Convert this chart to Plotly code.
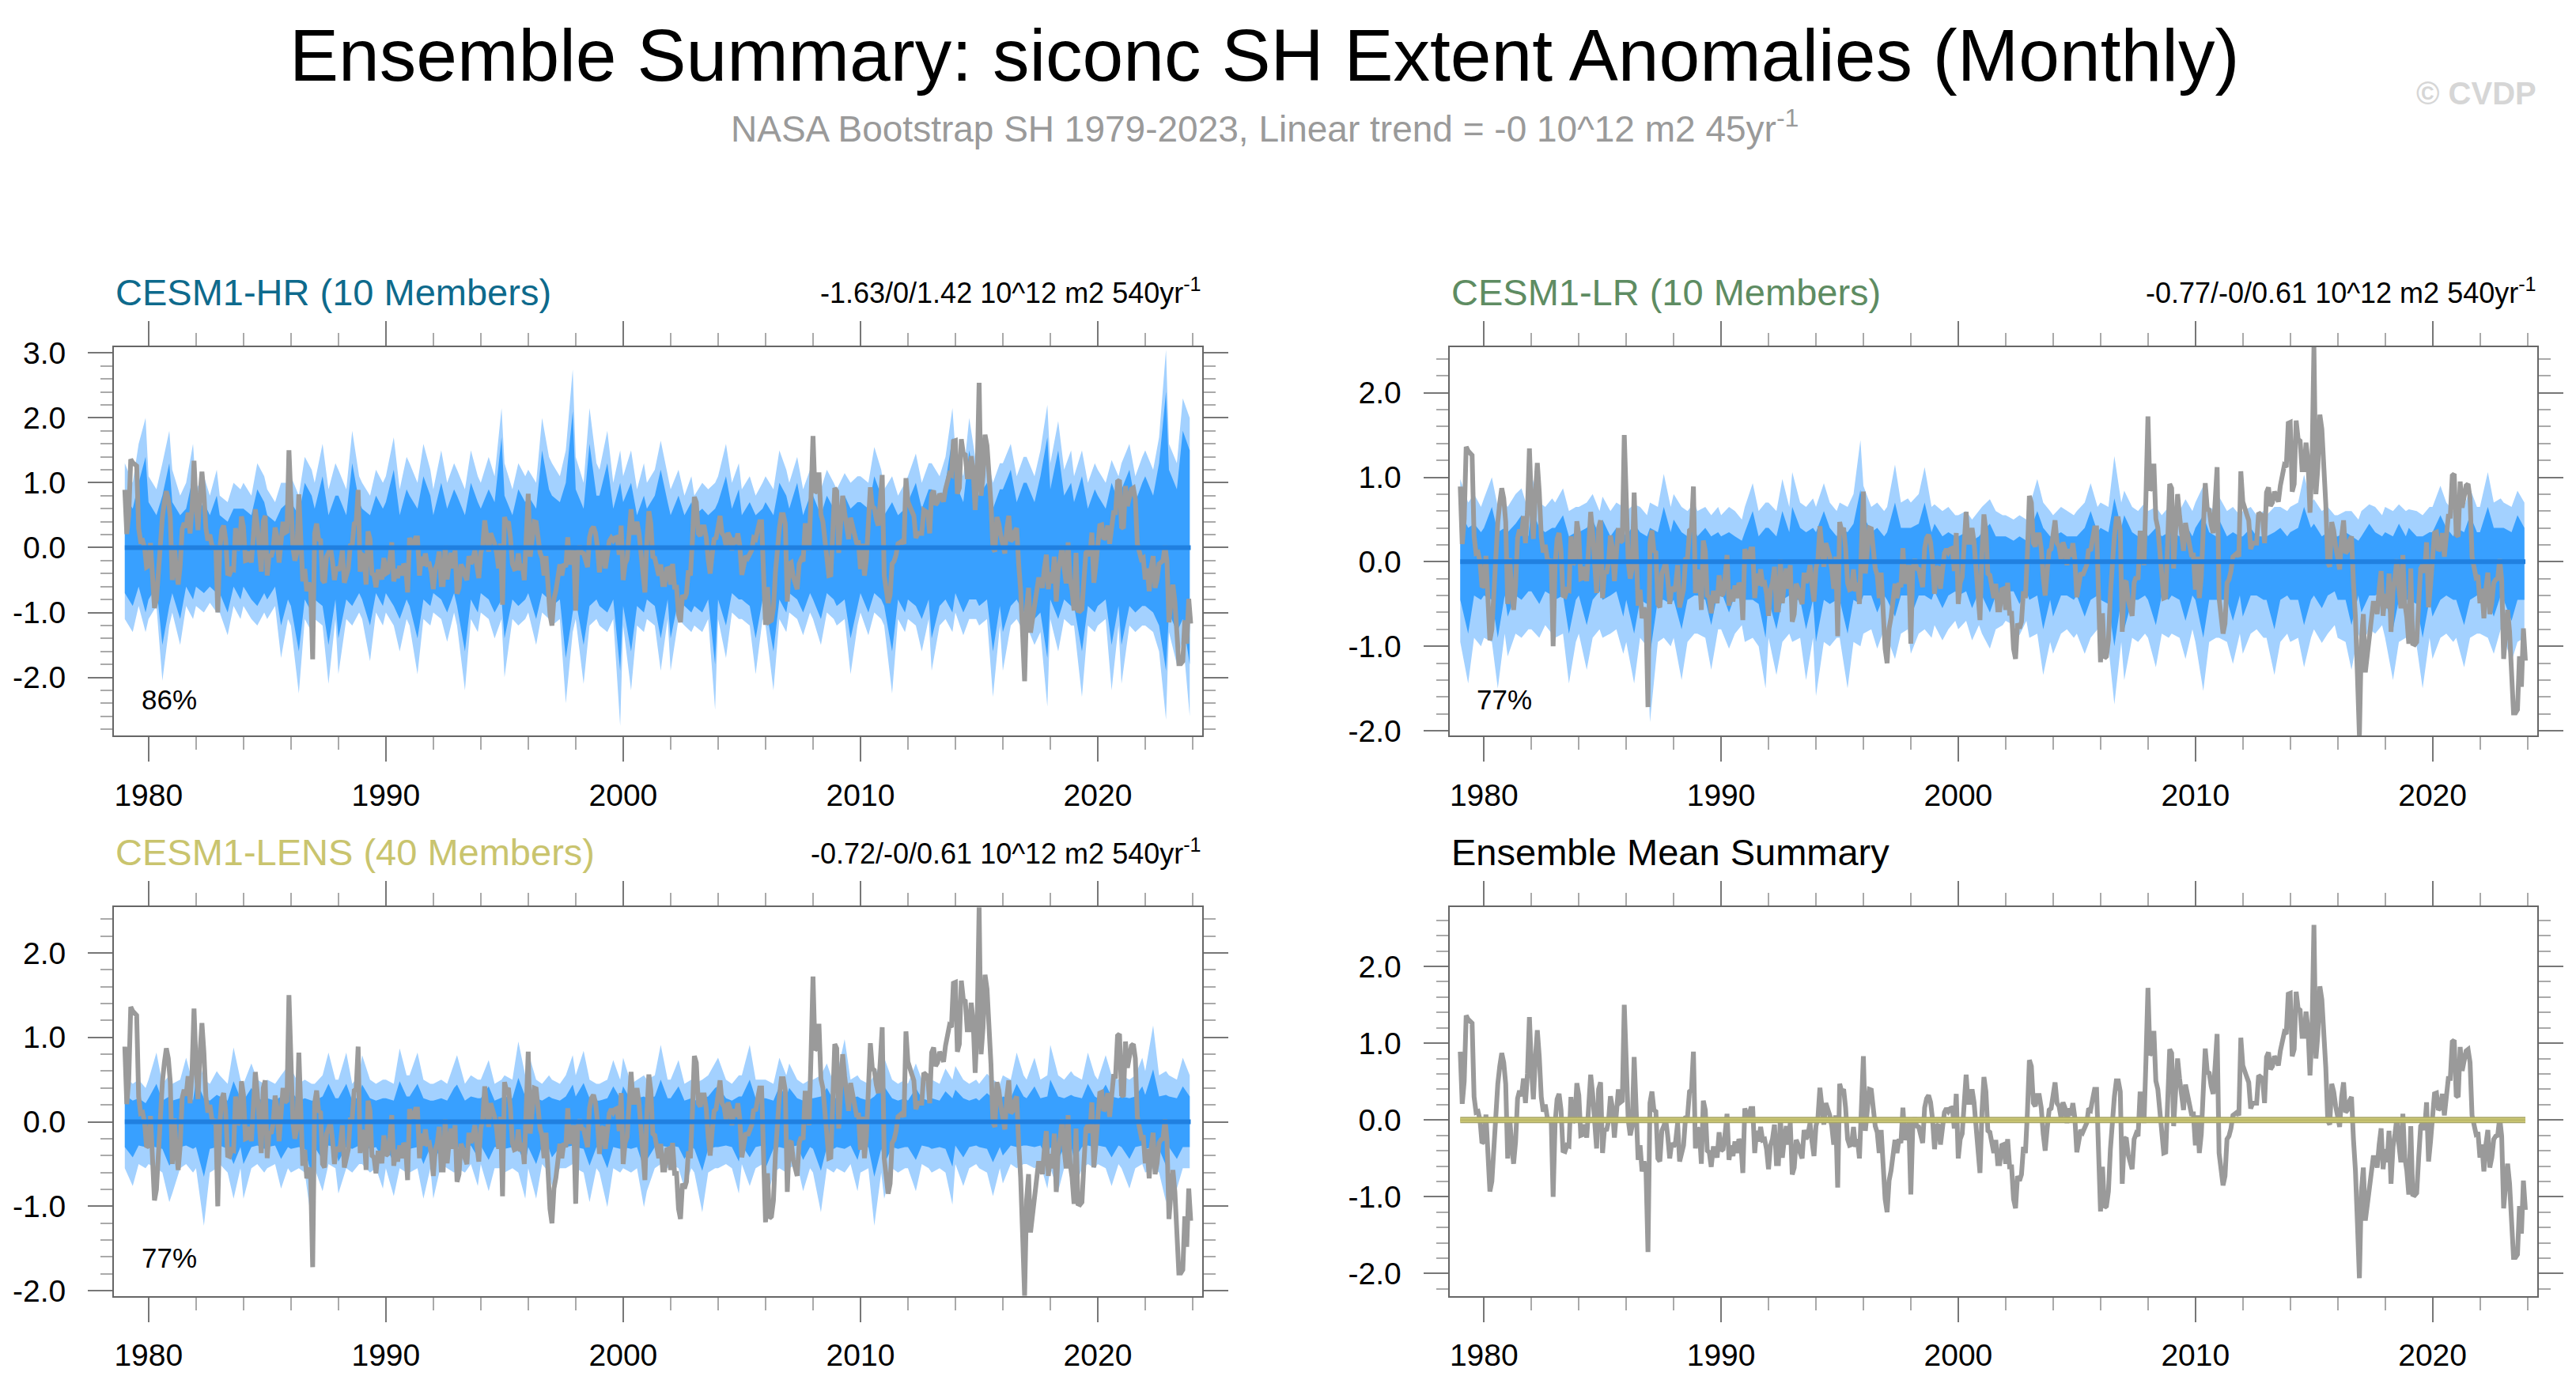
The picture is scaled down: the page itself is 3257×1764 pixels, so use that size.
import numpy as np
import plotly.graph_objects as go

# reference canvas; the page body adds an 8px margin, so the figure is shrunk by it
W, H = 3257, 1764
OFF = 8
FW, FH = W - 2 * OFF, H - 2 * OFF
FONT = "Liberation Sans, Arial, sans-serif"

# observed anomalies (NASA Bootstrap SH), monthly Jan 1979 - Dec 2023
obs = [
    0.89, 0.21, 0.50, 1.36, 1.31, 1.29, 1.26, 0.30, 0.10, 0.11, 0.00, -0.30,
    -0.28, 0.07, -0.55, -0.93, -0.80, -0.38, 0.13, 0.47, 0.70, 0.87, 0.75, 0.47,
    -0.50, 0.04, -0.32, -0.57, -0.28, 0.28, 0.38, 0.31, 0.54, 0.22, 0.60, 1.34,
    0.68, 0.27, 0.80, 1.17, 0.82, 0.30, 0.11, 0.20, 0.04, -0.02, 0.03, -1.00,
    -0.04, 0.27, 0.34, 0.13, -0.40, -0.41, -0.33, -0.34, 0.30, -0.03, 0.00, 0.48,
    0.32, -0.20, -0.19, -0.06, -0.23, 0.20, 0.59, 0.34, 0.03, -0.37, 0.40, 0.49,
    -0.43, -0.11, -0.14, -0.02, 0.31, 0.16, -0.23, 0.18, 0.40, 0.23, 0.25, 1.50,
    0.58, 0.00, -0.20, -0.08, 0.82, 0.03, -0.52, -0.33, -0.67, -0.54, -0.67, -1.72,
    0.22, 0.37, 0.13, 0.11, -0.50, -0.54, -0.14, -0.08, 0.00, -0.21, -0.50, -0.30,
    -0.35, -0.28, -0.04, -0.54, -0.42, -0.33, 0.03, 0.04, 0.37, 0.39, 0.89, -0.37,
    -0.11, -0.13, -0.57, 0.25, 0.13, -0.40, -0.42, -0.61, -0.37, -0.37, -0.49, -0.16,
    -0.40, -0.38, -0.18, 0.08, -0.52, -0.33, -0.47, -0.28, -0.43, -0.25, -0.30, -0.69,
    0.15, 0.06, 0.06, 0.15, 0.15, -0.43, -0.14, -0.28, -0.09, -0.26, -0.25, -0.38,
    -0.64, -0.33, -0.25, -0.06, -0.57, -0.57, 0.03, -0.49, -0.25, -0.08, -0.32, -0.04,
    -0.71, -0.62, -0.26, -0.32, -0.43, -0.50, -0.13, -0.25, -0.18, -0.04, -0.28, -0.47,
    -0.08, 0.03, 0.42, 0.10, -0.06, 0.22, 0.15, 0.06, -0.08, -0.32, 0.06, -0.88,
    0.47, 0.37, 0.40, 0.16, -0.25, -0.33, -0.32, -0.09, -0.35, -0.25, -0.50, 0.06,
    0.83, -0.14, 0.16, 0.40, 0.39, 0.16, -0.08, -0.16, -0.43, -0.13, -0.66, -1.03,
    -1.20, -0.79, -0.66, -0.47, -0.26, -0.43, -0.25, -0.30, 0.16, -0.26, -0.13, -0.04,
    -0.97, -0.08, 0.03, -0.08, -0.09, -0.18, -0.30, 0.16, 0.28, 0.32, 0.23, 0.01,
    -0.38, -0.08, -0.06, -0.32, -0.11, 0.10, 0.15, 0.11, 0.15, 0.16, -0.11, 0.34,
    -0.50, -0.25, -0.18, 0.16, 0.59, 0.23, 0.23, 0.40, 0.23, -0.08, -0.32, -0.69,
    0.10, 0.56, 0.37, -0.14, -0.16, -0.32, -0.43, -0.26, -0.57, -0.57, -0.33, -0.32,
    -0.57, -0.25, -0.61, -0.61, -1.03, -1.15, -0.73, -0.79, -0.71, -0.35, -0.43, 0.10,
    0.78, 0.70, 0.22, 0.18, 0.32, 0.32, 0.16, -0.18, -0.40, -0.11, 0.13, 0.15,
    0.37, 0.49, 0.22, 0.18, 0.03, 0.23, 0.16, -0.04, 0.15, 0.06, 0.22, 0.03,
    -0.42, -0.26, -0.13, -0.16, -0.09, -0.04, 0.15, 0.13, 0.27, 0.40, 0.40, -0.59,
    -1.19, -0.61, -1.14, -1.12, -0.93, -0.38, 0.01, 0.30, 0.51, 0.51, 0.37, -0.83,
    -0.25, -0.23, -0.45, -0.57, -0.64, -0.25, -0.18, -0.21, 0.34, 0.34, -0.04, 0.78,
    1.72, 0.85, 0.87, 1.16, 0.51, 0.40, 0.06, -0.21, -0.43, -0.42, 0.40, 0.92,
    0.87, -0.08, 0.37, 0.80, 0.54, 0.37, 0.13, 0.46, 0.34, 0.15, 0.08, 0.08,
    -0.33, 0.06, -0.43, -0.18, 0.37, 0.93, 0.63, 0.61, 0.44, 0.34, 0.71, 1.12,
    -0.43, -0.62, -0.85, -0.73, -0.25, -0.21, -0.11, 0.06, 0.08, 0.10, 0.06, 1.07,
    0.71, 0.61, 0.56, 0.49, 0.15, 0.22, 0.22, 0.22, 0.58, 0.56, 0.54, 0.22,
    0.82, 0.88, 0.66, 0.70, 0.83, 0.78, 0.71, 0.90, 1.07, 1.14, 1.12, 1.64,
    1.65, 0.83, 0.92, 1.67, 1.45, 1.43, 1.09, 1.09, 1.41, 1.19, 0.58, 1.12,
    2.54, 0.80, 1.12, 1.74, 1.57, 1.16, 0.68, -0.01, -0.06, 0.47, 0.37, 0.18,
    0.06, -0.09, 0.30, 0.49, 0.10, 0.13, 0.25, 0.30, -0.25, -0.66, -1.34, -2.06,
    -0.93, -0.62, -1.31, -1.10, -0.86, -0.61, -0.49, -0.49, -0.62, -0.32, -0.11, -0.64,
    -0.38, -0.55, -0.14, -0.83, -0.35, -0.18, 0.03, -0.32, -0.55, 0.08, -0.49, -0.66,
    -0.97, -0.08, -0.97, -0.98, -0.95, -0.49, -0.08, -0.04, -0.13, 0.23, -0.54, -0.28,
    0.06, 0.34, 0.35, 0.13, 0.16, 0.34, 0.06, 0.30, 0.54, 0.54, 1.02, 1.04,
    0.32, 0.30, 0.95, 0.64, 0.80, 0.90, 0.92, 0.75, 0.06, -0.08, -0.18, -0.16,
    -0.49, -0.32, -0.67, -0.32, -0.13, -0.62, -0.49, -0.25, -0.21, -0.20, 0.03, -0.21,
    -1.15, -0.85, -0.57, -0.83, -1.21, -1.79, -1.79, -1.75, -1.12, -1.48, -0.79, -1.17,
]

# ensemble spread, read per quarter (4 values per year, 1979-2023)
hr_hi_outer = [
    1.3, 1.0, 1.6, 2.0, 1.1, 0.9, 1.3, 1.8, 1.2, 0.8, 1.0, 1.6, 0.9, 1.1, 0.8, 1.2,
    0.8, 0.7, 1.0, 0.9, 1.0, 0.8, 1.3, 1.1, 0.9, 0.7, 1.0, 1.0, 1.1, 0.8, 1.4, 1.2,
    1.0, 1.6, 0.9, 1.3, 1.2, 0.9, 1.8, 1.1, 1.0, 0.8, 1.2, 1.0, 1.1, 1.7, 0.9, 1.4,
    1.3, 1.0, 1.6, 1.2, 0.9, 1.5, 1.0, 1.3, 1.2, 0.9, 1.5, 1.1, 1.0, 1.4, 1.1, 2.15,
    1.3, 0.9, 1.3, 1.1, 1.2, 1.0, 2.0, 1.4, 1.3, 1.1, 1.5, 2.75, 1.4, 1.0, 2.15, 1.3,
    1.2, 1.8, 1.0, 1.5, 1.1, 1.5, 0.9, 1.3, 1.0, 1.2, 1.65, 1.1, 0.9, 1.2, 0.8, 1.1,
    0.8, 1.0, 0.9, 1.0, 1.1, 1.6, 1.0, 1.3, 0.9, 1.1, 0.8, 1.0, 1.1, 0.9, 1.5, 1.2,
    1.0, 1.4, 0.9, 1.2, 1.2, 0.9, 1.2, 1.0, 0.9, 1.15, 1.0, 1.1, 1.1, 1.0, 1.55, 1.2,
    0.9, 1.1, 0.8, 1.0, 1.1, 1.45, 1.0, 1.3, 1.3, 1.1, 1.4, 2.15, 1.5, 1.1, 2.0, 1.3,
    1.2, 1.4, 1.0, 1.3, 1.3, 1.6, 1.1, 1.4, 1.4, 1.1, 1.5, 2.2, 1.3, 1.95, 1.2, 1.5,
    1.1, 1.5, 1.0, 1.3, 1.2, 1.0, 1.35, 1.1, 1.3, 1.6, 1.1, 1.4, 1.5, 1.2, 1.7, 3.05,
    1.6, 1.3, 2.3, 2.0,
]
hr_hi_inner = [
    0.8, 0.6, 1.0, 1.4, 0.7, 0.5, 0.8, 1.3, 0.7, 0.5, 0.6, 1.1, 0.5, 0.7, 0.5, 0.8,
    0.5, 0.4, 0.6, 0.6, 0.6, 0.5, 0.9, 0.7, 0.5, 0.4, 0.6, 0.7, 0.7, 0.5, 1.0, 0.8,
    0.6, 1.1, 0.5, 0.8, 0.8, 0.5, 1.3, 0.7, 0.6, 0.5, 0.8, 0.6, 0.7, 1.2, 0.5, 0.9,
    0.8, 0.6, 1.1, 0.8, 0.5, 1.0, 0.6, 0.9, 0.8, 0.5, 1.0, 0.7, 0.6, 0.9, 0.7, 1.7,
    0.8, 0.5, 0.9, 0.7, 0.8, 0.6, 1.5, 0.9, 0.8, 0.7, 1.0, 2.1, 0.9, 0.6, 1.6, 0.8,
    0.8, 1.3, 0.6, 1.0, 0.7, 1.0, 0.5, 0.8, 0.6, 0.8, 1.2, 0.7, 0.5, 0.8, 0.5, 0.7,
    0.5, 0.6, 0.5, 0.6, 0.7, 1.1, 0.6, 0.9, 0.5, 0.7, 0.5, 0.6, 0.7, 0.5, 1.0, 0.8,
    0.6, 1.0, 0.5, 0.8, 0.8, 0.5, 0.8, 0.6, 0.5, 0.8, 0.6, 0.7, 0.7, 0.6, 1.1, 0.8,
    0.5, 0.7, 0.5, 0.6, 0.7, 1.0, 0.6, 0.9, 0.9, 0.7, 1.0, 1.7, 1.0, 0.7, 1.5, 0.9,
    0.8, 1.0, 0.6, 0.9, 0.9, 1.2, 0.7, 1.0, 1.0, 0.7, 1.1, 1.7, 0.9, 1.5, 0.8, 1.0,
    0.7, 1.1, 0.6, 0.9, 0.8, 0.6, 1.0, 0.7, 0.9, 1.2, 0.7, 1.0, 1.1, 0.8, 1.3, 2.4,
    1.2, 0.9, 1.8, 1.5,
]
hr_lo_inner = [
    -0.7, -0.9, -0.6, -1.0, -0.8, -0.6, -1.5, -0.9, -0.7, -1.1, -0.6, -0.8, -0.6, -0.7, -0.6, -0.7,
    -0.7, -1.0, -0.6, -0.8, -0.6, -0.8, -0.9, -0.7, -0.8, -0.6, -1.2, -0.8, -0.9, -1.6, -0.8, -1.0,
    -0.8, -0.9, -1.5, -0.8, -1.4, -0.8, -0.9, -0.7, -0.8, -1.2, -0.7, -0.9, -0.7, -0.9, -1.1, -0.8,
    -0.9, -1.4, -0.8, -0.9, -0.7, -0.8, -1.0, -0.7, -0.9, -1.6, -0.8, -1.0, -0.7, -0.8, -1.0, -0.8,
    -1.4, -0.8, -0.9, -0.8, -0.7, -1.1, -0.7, -0.8, -0.9, -0.8, -1.7, -1.0, -0.8, -1.5, -0.9, -0.8,
    -0.9, -1.0, -0.8, -1.9, -0.9, -1.6, -0.9, -1.0, -0.8, -0.9, -1.4, -0.8, -1.4, -0.8, -0.9, -1.0,
    -0.9, -1.0, -0.8, -1.8, -0.8, -1.2, -0.7, -0.8, -0.8, -0.9, -1.4, -0.8, -0.9, -1.6, -0.8, -1.0,
    -0.7, -0.8, -1.0, -0.7, -0.8, -1.1, -0.7, -0.8, -0.9, -0.8, -1.4, -0.9, -0.7, -1.0, -0.7, -0.8,
    -0.9, -1.6, -0.8, -1.0, -0.8, -0.9, -1.1, -0.8, -1.4, -0.9, -0.8, -1.0, -0.7, -1.0, -0.8, -0.8,
    -0.9, -0.8, -1.6, -0.9, -1.3, -0.9, -0.8, -1.0, -0.9, -1.1, -1.0, -1.7, -0.8, -1.1, -0.8, -0.9,
    -0.9, -1.6, -0.9, -1.0, -0.9, -0.8, -1.5, -0.9, -1.5, -0.9, -1.0, -0.9, -0.9, -1.0, -1.2, -1.9,
    -1.0, -1.3, -1.1, -1.8,
]
hr_lo_outer = [
    -1.1, -1.3, -0.9, -1.3, -1.1, -0.9, -2.05, -1.2, -1.0, -1.5, -0.9, -1.1, -0.9, -1.0, -0.85, -1.0,
    -1.0, -1.35, -0.9, -1.1, -0.9, -1.1, -1.2, -1.0, -1.1, -0.9, -1.7, -1.1, -1.2, -2.25, -1.1, -1.3,
    -1.1, -1.2, -2.1, -1.1, -1.95, -1.1, -1.2, -1.0, -1.1, -1.75, -1.0, -1.2, -1.0, -1.2, -1.6, -1.1,
    -1.2, -1.95, -1.1, -1.2, -1.0, -1.1, -1.45, -1.0, -1.2, -2.2, -1.1, -1.3, -1.0, -1.1, -1.4, -1.1,
    -2.0, -1.1, -1.2, -1.1, -1.0, -1.5, -1.0, -1.1, -1.2, -1.1, -2.4, -1.3, -1.1, -2.1, -1.2, -1.1,
    -1.2, -1.3, -1.1, -2.75, -1.2, -2.2, -1.2, -1.3, -1.1, -1.2, -1.9, -1.1, -1.9, -1.1, -1.2, -1.3,
    -1.2, -1.3, -1.1, -2.5, -1.1, -1.7, -1.0, -1.1, -1.1, -1.2, -1.95, -1.1, -1.2, -2.2, -1.1, -1.3,
    -1.0, -1.1, -1.35, -1.0, -1.1, -1.5, -1.0, -1.1, -1.2, -1.1, -1.95, -1.2, -1.0, -1.35, -1.0, -1.1,
    -1.2, -2.25, -1.1, -1.3, -1.1, -1.2, -1.6, -1.1, -1.9, -1.2, -1.1, -1.3, -1.0, -1.35, -1.1, -1.1,
    -1.2, -1.1, -2.3, -1.2, -1.9, -1.2, -1.1, -1.3, -1.2, -1.5, -1.3, -2.45, -1.1, -1.6, -1.1, -1.2,
    -1.2, -2.3, -1.2, -1.3, -1.2, -1.1, -2.2, -1.2, -2.1, -1.2, -1.3, -1.2, -1.2, -1.3, -1.6, -2.65,
    -1.3, -1.8, -1.4, -2.6,
]

lr_hi_outer = [
    0.98, 0.70, 0.80, 0.65, 0.75, 1.00, 0.65, 0.70, 0.65, 0.80, 0.87, 0.60, 1.03, 0.70, 0.65, 0.75,
    0.70, 0.87, 0.60, 0.65, 0.65, 0.70, 0.80, 0.60, 0.77, 0.60, 0.70, 0.65, 0.60, 0.68, 0.65, 0.55,
    0.70, 0.65, 1.04, 0.65, 0.80, 0.65, 0.60, 0.70, 0.60, 0.65, 0.55, 0.65, 0.55, 0.65, 0.60, 0.50,
    0.65, 0.93, 0.60, 0.70, 0.70, 0.60, 0.98, 0.65, 1.06, 0.70, 0.65, 0.75, 0.65, 0.93, 0.70, 0.60,
    0.70, 0.65, 0.80, 1.44, 0.90, 0.65, 0.70, 0.60, 0.65, 1.15, 0.70, 0.75, 0.70, 0.80, 1.12, 0.65,
    0.68, 0.60, 0.65, 0.55, 0.55, 0.60, 0.50, 0.60, 0.65, 0.74, 0.60, 0.55, 0.55, 0.50, 0.55, 0.50,
    0.65, 0.98, 0.70, 0.60, 0.55, 0.65, 0.60, 0.55, 0.60, 0.70, 0.93, 0.65, 0.70, 0.65, 1.25, 0.70,
    0.84, 0.65, 0.60, 0.70, 0.60, 0.65, 0.55, 0.65, 0.65, 0.60, 0.74, 0.60, 0.70, 0.90, 0.65, 0.60,
    0.77, 0.60, 0.65, 0.55, 0.60, 0.65, 0.55, 0.60, 0.55, 0.65, 0.65, 0.60, 0.65, 0.70, 1.03, 0.70,
    0.74, 0.60, 0.65, 0.55, 0.55, 0.60, 0.60, 0.50, 0.60, 0.68, 0.65, 0.55, 0.65, 0.60, 0.68, 0.60,
    0.62, 0.60, 0.55, 0.65, 0.65, 0.90, 0.70, 0.60, 0.70, 0.65, 0.87, 0.65, 0.65, 1.06, 0.70, 0.75,
    0.70, 0.65, 0.84, 0.70,
]
lr_hi_inner = [
    0.60, 0.40, 0.45, 0.35, 0.40, 0.65, 0.35, 0.40, 0.35, 0.45, 0.55, 0.30, 0.65, 0.40, 0.35, 0.40,
    0.40, 0.55, 0.30, 0.35, 0.35, 0.40, 0.50, 0.30, 0.50, 0.30, 0.40, 0.35, 0.30, 0.45, 0.35, 0.30,
    0.40, 0.35, 0.65, 0.35, 0.50, 0.35, 0.30, 0.40, 0.30, 0.40, 0.30, 0.35, 0.30, 0.35, 0.30, 0.25,
    0.35, 0.60, 0.30, 0.40, 0.40, 0.30, 0.60, 0.35, 0.65, 0.40, 0.35, 0.40, 0.35, 0.60, 0.40, 0.30,
    0.40, 0.35, 0.45, 0.85, 0.55, 0.35, 0.40, 0.30, 0.35, 0.70, 0.40, 0.40, 0.40, 0.45, 0.70, 0.35,
    0.45, 0.30, 0.35, 0.30, 0.30, 0.35, 0.25, 0.30, 0.35, 0.45, 0.30, 0.30, 0.30, 0.25, 0.30, 0.25,
    0.35, 0.60, 0.40, 0.30, 0.30, 0.35, 0.30, 0.30, 0.30, 0.40, 0.60, 0.35, 0.40, 0.35, 0.75, 0.40,
    0.55, 0.35, 0.30, 0.40, 0.30, 0.40, 0.30, 0.35, 0.35, 0.30, 0.45, 0.30, 0.40, 0.55, 0.35, 0.30,
    0.50, 0.30, 0.35, 0.30, 0.30, 0.40, 0.30, 0.30, 0.30, 0.35, 0.40, 0.30, 0.35, 0.40, 0.65, 0.40,
    0.45, 0.30, 0.35, 0.30, 0.30, 0.35, 0.30, 0.25, 0.30, 0.45, 0.35, 0.30, 0.35, 0.30, 0.45, 0.30,
    0.40, 0.30, 0.30, 0.35, 0.35, 0.55, 0.40, 0.30, 0.40, 0.35, 0.55, 0.35, 0.35, 0.65, 0.40, 0.40,
    0.40, 0.35, 0.55, 0.40,
]
lr_lo_inner = [
    -0.45, -0.85, -0.40, -0.45, -0.40, -0.45, -0.90, -0.40, -0.65, -0.40, -0.45, -0.35, -0.35, -0.50, -0.35, -0.40,
    -0.45, -0.40, -0.85, -0.45, -0.40, -0.75, -0.45, -0.35, -0.45, -0.40, -0.35, -0.65, -0.45, -0.85, -0.45, -0.50,
    -1.10, -0.45, -0.45, -0.50, -0.45, -0.80, -0.45, -0.40, -0.40, -0.45, -0.75, -0.35, -0.35, -0.60, -0.40, -0.35,
    -0.45, -0.45, -0.50, -0.90, -0.45, -0.80, -0.45, -0.40, -0.45, -0.45, -0.80, -0.45, -0.95, -0.45, -0.50, -0.45,
    -0.45, -0.85, -0.45, -0.50, -0.40, -0.40, -0.60, -0.40, -0.45, -0.65, -0.40, -0.40, -0.65, -0.40, -0.40, -0.45,
    -0.35, -0.55, -0.40, -0.35, -0.40, -0.35, -0.55, -0.35, -0.40, -0.60, -0.40, -0.35, -0.35, -0.35, -0.50, -0.35,
    -0.45, -0.40, -0.80, -0.45, -0.65, -0.40, -0.40, -0.45, -0.40, -0.65, -0.45, -0.40, -0.45, -0.50, -1.00, -0.45,
    -0.80, -0.45, -0.45, -0.40, -0.45, -0.75, -0.40, -0.45, -0.40, -0.45, -0.70, -0.40, -0.45, -0.90, -0.45, -0.45,
    -0.45, -0.45, -0.70, -0.40, -0.65, -0.40, -0.40, -0.45, -0.45, -0.80, -0.45, -0.40, -0.45, -0.45, -0.75, -0.45,
    -0.40, -0.55, -0.40, -0.35, -0.45, -0.45, -0.75, -0.40, -0.60, -0.40, -0.40, -0.35, -0.45, -0.80, -0.45, -0.45,
    -0.45, -0.50, -0.90, -0.45, -0.65, -0.45, -0.40, -0.45, -0.45, -0.75, -0.45, -0.40, -0.40, -0.45, -0.65, -0.40,
    -0.45, -0.70, -0.45, -0.45,
]
lr_lo_outer = [
    -0.95, -1.44, -0.90, -1.00, -0.90, -0.95, -1.50, -0.85, -1.12, -0.85, -0.90, -0.80, -0.80, -0.90, -0.75, -0.85,
    -0.90, -0.85, -1.44, -0.95, -0.85, -1.28, -0.90, -0.80, -0.90, -0.85, -0.80, -1.09, -0.95, -1.44, -0.90, -1.00,
    -1.90, -0.95, -0.90, -1.00, -0.90, -1.40, -0.95, -0.85, -0.85, -0.90, -1.28, -0.80, -0.80, -1.03, -0.85, -0.75,
    -0.95, -0.90, -1.00, -1.50, -0.90, -1.34, -0.95, -0.85, -0.95, -0.90, -1.40, -0.90, -1.59, -0.95, -1.00, -0.90,
    -0.90, -1.50, -0.95, -1.00, -0.85, -0.80, -1.03, -0.80, -0.90, -1.15, -0.85, -0.80, -1.09, -0.85, -0.80, -0.90,
    -0.75, -0.93, -0.80, -0.70, -0.80, -0.70, -0.93, -0.75, -0.85, -1.03, -0.80, -0.75, -0.70, -0.75, -0.87, -0.70,
    -0.90, -0.85, -1.34, -0.95, -1.09, -0.85, -0.80, -0.90, -0.85, -1.09, -0.90, -0.80, -0.95, -1.00, -1.69, -0.95,
    -1.40, -0.90, -0.95, -0.85, -0.90, -1.25, -0.85, -0.90, -0.85, -0.90, -1.15, -0.80, -0.95, -1.53, -0.95, -0.90,
    -0.90, -0.95, -1.21, -0.85, -1.09, -0.85, -0.80, -0.90, -0.90, -1.34, -0.95, -0.85, -0.95, -0.90, -1.25, -0.90,
    -0.80, -0.96, -0.85, -0.75, -0.90, -0.95, -1.28, -0.85, -0.99, -0.80, -0.85, -0.75, -0.90, -1.40, -0.95, -0.90,
    -0.95, -1.00, -1.50, -0.90, -1.15, -0.90, -0.85, -0.95, -0.90, -1.25, -0.90, -0.85, -0.85, -0.90, -1.09, -0.80,
    -0.90, -1.18, -0.95, -0.90,
]

lens_hi_outer = [
    0.54, 0.45, 0.50, 0.40, 0.50, 0.82, 0.45, 0.55, 0.45, 0.50, 0.76, 0.45, 0.90, 0.50, 0.45, 0.60,
    0.55, 0.45, 0.88, 0.50, 0.45, 0.69, 0.50, 0.45, 0.50, 0.45, 0.55, 0.66, 0.63, 0.45, 0.50, 0.45,
    0.45, 0.55, 0.82, 0.50, 0.50, 0.82, 0.45, 0.55, 0.79, 0.50, 0.45, 0.50, 0.50, 0.45, 0.87, 0.55,
    0.55, 0.82, 0.50, 0.45, 0.45, 0.50, 0.45, 0.69, 0.79, 0.45, 0.55, 0.50, 0.50, 0.73, 0.45, 0.50,
    0.55, 0.50, 0.95, 0.55, 0.82, 0.50, 0.45, 0.55, 0.50, 0.45, 0.55, 0.79, 0.55, 0.84, 0.50, 0.45,
    0.45, 0.50, 0.73, 0.50, 0.76, 0.45, 0.50, 0.55, 0.50, 0.55, 0.91, 0.50, 0.50, 0.73, 0.45, 0.50,
    0.45, 0.50, 0.55, 0.69, 0.76, 0.50, 0.45, 0.55, 0.55, 0.91, 0.50, 0.50, 0.50, 0.45, 0.76, 0.55,
    0.69, 0.50, 0.45, 0.50, 0.50, 0.55, 0.69, 0.45, 0.55, 0.98, 0.50, 0.55, 0.50, 0.45, 0.55, 0.69,
    0.76, 0.50, 0.45, 0.50, 0.45, 0.69, 0.50, 0.45, 0.50, 0.45, 0.63, 0.50, 0.66, 0.50, 0.45, 0.50,
    0.45, 0.57, 0.50, 0.45, 0.55, 0.50, 0.82, 0.55, 0.50, 0.76, 0.50, 0.55, 0.91, 0.55, 0.50, 0.60,
    0.55, 0.50, 0.82, 0.55, 0.50, 0.79, 0.55, 0.50, 0.55, 0.50, 0.55, 0.76, 0.60, 1.14, 0.55, 0.60,
    0.55, 0.50, 0.76, 0.55,
]
lens_hi_inner = [
    0.32, 0.25, 0.28, 0.22, 0.28, 0.45, 0.25, 0.30, 0.25, 0.28, 0.42, 0.25, 0.50, 0.28, 0.25, 0.32,
    0.30, 0.25, 0.48, 0.28, 0.25, 0.40, 0.28, 0.25, 0.28, 0.25, 0.30, 0.38, 0.36, 0.25, 0.28, 0.25,
    0.25, 0.30, 0.45, 0.28, 0.28, 0.45, 0.25, 0.30, 0.44, 0.28, 0.25, 0.28, 0.28, 0.25, 0.48, 0.30,
    0.30, 0.45, 0.28, 0.25, 0.25, 0.28, 0.25, 0.40, 0.44, 0.25, 0.30, 0.28, 0.28, 0.42, 0.25, 0.28,
    0.30, 0.28, 0.52, 0.30, 0.45, 0.28, 0.25, 0.30, 0.28, 0.25, 0.30, 0.44, 0.30, 0.46, 0.28, 0.25,
    0.25, 0.28, 0.42, 0.28, 0.42, 0.25, 0.28, 0.30, 0.28, 0.30, 0.50, 0.28, 0.28, 0.42, 0.25, 0.28,
    0.25, 0.28, 0.30, 0.40, 0.42, 0.28, 0.25, 0.30, 0.30, 0.50, 0.28, 0.28, 0.28, 0.25, 0.42, 0.30,
    0.40, 0.28, 0.25, 0.28, 0.28, 0.30, 0.40, 0.25, 0.30, 0.54, 0.28, 0.30, 0.28, 0.25, 0.30, 0.40,
    0.42, 0.28, 0.25, 0.28, 0.25, 0.40, 0.28, 0.25, 0.28, 0.25, 0.36, 0.28, 0.38, 0.28, 0.25, 0.28,
    0.25, 0.34, 0.28, 0.25, 0.30, 0.28, 0.45, 0.30, 0.28, 0.42, 0.28, 0.30, 0.50, 0.30, 0.28, 0.32,
    0.30, 0.28, 0.45, 0.30, 0.28, 0.44, 0.30, 0.28, 0.30, 0.28, 0.30, 0.42, 0.32, 0.62, 0.30, 0.32,
    0.30, 0.28, 0.42, 0.30,
]
lens_lo_inner = [
    -0.30, -0.42, -0.28, -0.30, -0.28, -0.30, -0.32, -0.52, -0.47, -0.30, -0.28, -0.32, -0.30, -0.65, -0.32, -0.30,
    -0.28, -0.32, -0.50, -0.30, -0.50, -0.30, -0.28, -0.32, -0.30, -0.28, -0.44, -0.30, -0.32, -0.30, -0.32, -0.64,
    -0.30, -0.45, -0.28, -0.30, -0.47, -0.30, -0.32, -0.28, -0.28, -0.32, -0.30, -0.44, -0.30, -0.48, -0.30, -0.32,
    -0.32, -0.30, -0.50, -0.30, -0.50, -0.28, -0.30, -0.32, -0.30, -0.32, -0.28, -0.42, -0.28, -0.45, -0.30, -0.30,
    -0.32, -0.30, -0.32, -0.50, -0.30, -0.50, -0.28, -0.32, -0.42, -0.30, -0.30, -0.28, -0.30, -0.32, -0.52, -0.30,
    -0.32, -0.55, -0.30, -0.32, -0.30, -0.32, -0.30, -0.55, -0.45, -0.30, -0.28, -0.30, -0.28, -0.30, -0.44, -0.30,
    -0.32, -0.58, -0.32, -0.30, -0.30, -0.28, -0.30, -0.47, -0.28, -0.42, -0.30, -0.28, -0.55, -0.32, -0.30, -0.32,
    -0.30, -0.28, -0.45, -0.30, -0.32, -0.58, -0.30, -0.32, -0.30, -0.32, -0.28, -0.45, -0.32, -0.30, -0.65, -0.32,
    -0.50, -0.30, -0.32, -0.30, -0.30, -0.45, -0.28, -0.30, -0.32, -0.30, -0.32, -0.53, -0.28, -0.42, -0.30, -0.28,
    -0.30, -0.32, -0.48, -0.30, -0.40, -0.28, -0.30, -0.28, -0.28, -0.30, -0.28, -0.44, -0.30, -0.45, -0.30, -0.28,
    -0.45, -0.30, -0.28, -0.30, -0.28, -0.30, -0.42, -0.28, -0.30, -0.44, -0.30, -0.28, -0.32, -0.30, -0.32, -0.52,
    -0.30, -0.44, -0.30, -0.30,
]
lens_lo_outer = [
    -0.55, -0.76, -0.50, -0.55, -0.50, -0.55, -0.60, -0.95, -0.85, -0.55, -0.50, -0.60, -0.55, -1.23, -0.60, -0.55,
    -0.50, -0.60, -0.91, -0.55, -0.91, -0.55, -0.50, -0.60, -0.55, -0.50, -0.79, -0.55, -0.60, -0.55, -0.60, -1.20,
    -0.55, -0.82, -0.50, -0.55, -0.85, -0.55, -0.60, -0.50, -0.50, -0.60, -0.55, -0.79, -0.55, -0.88, -0.55, -0.60,
    -0.60, -0.55, -0.91, -0.55, -0.91, -0.50, -0.55, -0.60, -0.55, -0.60, -0.50, -0.76, -0.50, -0.82, -0.55, -0.55,
    -0.60, -0.55, -0.60, -0.91, -0.55, -0.91, -0.50, -0.60, -0.76, -0.55, -0.55, -0.50, -0.55, -0.60, -0.95, -0.55,
    -0.60, -1.01, -0.55, -0.60, -0.55, -0.60, -0.55, -1.01, -0.82, -0.55, -0.50, -0.55, -0.50, -0.55, -0.79, -0.55,
    -0.60, -1.07, -0.60, -0.55, -0.55, -0.50, -0.55, -0.85, -0.50, -0.76, -0.55, -0.50, -1.01, -0.60, -0.55, -0.60,
    -0.55, -0.50, -0.82, -0.55, -0.60, -1.07, -0.55, -0.60, -0.55, -0.60, -0.50, -0.82, -0.60, -0.55, -1.23, -0.60,
    -0.91, -0.55, -0.60, -0.55, -0.55, -0.82, -0.50, -0.55, -0.60, -0.55, -0.60, -0.98, -0.50, -0.76, -0.55, -0.50,
    -0.55, -0.60, -0.88, -0.55, -0.73, -0.50, -0.55, -0.50, -0.50, -0.55, -0.50, -0.79, -0.55, -0.82, -0.55, -0.50,
    -0.82, -0.55, -0.50, -0.55, -0.50, -0.55, -0.76, -0.50, -0.55, -0.79, -0.55, -0.50, -0.60, -0.55, -0.60, -0.95,
    -0.55, -0.79, -0.55, -0.55,
]

# ensemble means (flat at zero)
mean_years = [1979.0, 2023.917]
hr_mean = [0.0, 0.0]
lr_mean = [0.0, 0.0]
lens_mean = [0.0, 0.0]

year_ticks = [1980, 1990, 2000, 2010, 2020]
y_ticks_hr = [-2, -1, 0, 1, 2, 3]
y_ticks = [-2, -1, 0, 1, 2]

t_month = 1979 + np.arange(len(obs)) / 12.0
q_month = [0.0, 4.0, 7.0, 10.5]
t_quarter = np.array([y + m / 12.0 for y in range(1979, 2024) for m in q_month])

LIGHT = "#A3D1FF"
DARK = "#38A0FF"
MEANBLUE = "#2080E0"
GREY = "#9A9A9A"


def px(x):
    return (x - OFF) / FW


def py(y):
    # small vertical stretch, matched against the reference after rendering
    y = y * 1.0115 - 11
    return 1 - (y - OFF) / FH


fig = go.Figure()

# panel boxes in reference pixels: (left, right, top, bottom)
boxes = {
    1: (144, 1520, 438, 932),
    2: (1832.5, 3207.5, 438, 932),
    3: (144, 1520, 1150, 1644),
    4: (1832.5, 3207.5, 1150, 1644),
}

models = [
    (1, hr_hi_outer, hr_hi_inner, hr_lo_inner, hr_lo_outer, hr_mean),
    (2, lr_hi_outer, lr_hi_inner, lr_lo_inner, lr_lo_outer, lr_mean),
    (3, lens_hi_outer, lens_hi_inner, lens_lo_inner, lens_lo_outer, lens_mean),
]

for k, hi_o, hi_i, lo_i, lo_o, mean in models:
    xa, ya = ("x", "y") if k == 1 else (f"x{k}", f"y{k}")
    fig.add_trace(go.Scatter(x=t_quarter, y=hi_o, mode="lines", line=dict(width=0),
                             xaxis=xa, yaxis=ya, hoverinfo="skip"))
    fig.add_trace(go.Scatter(x=t_quarter, y=lo_o, mode="lines", line=dict(width=0),
                             fill="tonexty", fillcolor=LIGHT, xaxis=xa, yaxis=ya, hoverinfo="skip"))
    fig.add_trace(go.Scatter(x=t_quarter, y=hi_i, mode="lines", line=dict(width=0),
                             xaxis=xa, yaxis=ya, hoverinfo="skip"))
    fig.add_trace(go.Scatter(x=t_quarter, y=lo_i, mode="lines", line=dict(width=0),
                             fill="tonexty", fillcolor=DARK, xaxis=xa, yaxis=ya, hoverinfo="skip"))
    fig.add_trace(go.Scatter(x=t_month, y=obs, mode="lines", line=dict(color=GREY, width=6),
                             xaxis=xa, yaxis=ya))
    fig.add_trace(go.Scatter(x=mean_years, y=mean, mode="lines", line=dict(color=MEANBLUE, width=6),
                             xaxis=xa, yaxis=ya))

# ensemble mean summary panel
fig.add_trace(go.Scatter(x=t_month, y=obs, mode="lines", line=dict(color=GREY, width=6),
                         xaxis="x4", yaxis="y4"))
fig.add_trace(go.Scatter(x=mean_years, y=lr_mean, mode="lines", line=dict(color="#A8A66A", width=8),
                         xaxis="x4", yaxis="y4"))
fig.add_trace(go.Scatter(x=mean_years, y=lens_mean, mode="lines", line=dict(color="#CDC974", width=5),
                         xaxis="x4", yaxis="y4"))
fig.add_trace(go.Scatter(x=mean_years, y=hr_mean, mode="lines", line=dict(color="#A9A65E", width=1),
                         xaxis="x4", yaxis="y4"))

y_ranges = {
    1: [-2.9, 3.09],
    2: [min(obs), max(obs)],
    3: [min(obs), max(obs)],
    4: [-2.29, 2.77],
}

layout = dict(
    width=FW, height=FH, autosize=False, showlegend=False,
    margin=dict(l=0, r=0, t=0, b=0),
    paper_bgcolor="white", plot_bgcolor="white",
    font=dict(family=FONT, color="black"),
)

for k, (l, r, t, b) in boxes.items():
    sx = "" if k == 1 else str(k)
    common = dict(
        showline=True, linecolor="#666666", linewidth=2, mirror="allticks",
        ticks="outside", ticklen=31, tickwidth=2, tickcolor="#777777",
        showgrid=False, zeroline=False, tickfont=dict(size=39, family=FONT, color="black"),
    )
    layout["xaxis" + sx] = dict(
        common, domain=[px(l), px(r)], anchor="y" + sx, range=[1978.54, 2024.4],
        tickmode="array", tickvals=year_ticks, ticktext=[str(v) for v in year_ticks],
        ticklabelstandoff=9,
        minor=dict(ticks="outside", ticklen=16, tickwidth=1.5, tickcolor="#AAAAAA",
                   tickmode="linear", tick0=1980, dtick=2, showgrid=False),
    )
    yt = y_ticks_hr if k == 1 else y_ticks
    layout["yaxis" + sx] = dict(
        common, domain=[py(b), py(t)], anchor="x" + sx, range=y_ranges[k],
        tickmode="array", tickvals=yt, ticktext=[f"{v:.1f}" for v in yt],
        ticklabelstandoff=20,
        minor=dict(ticks="outside", ticklen=15, tickwidth=1.5, tickcolor="#AAAAAA",
                   tickmode="linear", tick0=0, dtick=0.2, showgrid=False),
    )

fig.update_layout(**layout)

ann = []


def text(x, y, s, size, color="black", xanchor="left"):
    ann.append(dict(x=px(x), y=py(y), xref="paper", yref="paper", text=s, showarrow=False,
                    xanchor=xanchor, yanchor="middle",
                    font=dict(size=size, color=color, family=FONT)))


text(1598, 67, "Ensemble Summary: siconc SH Extent Anomalies (Monthly)", 93, xanchor="center")
text(1599, 158, "NASA Bootstrap SH 1979-2023, Linear trend = -0 10^12 m2 45yr<sup>-1</sup>", 46,
     color="#9A9A9A", xanchor="center")
text(3209, 115, "<b>© CVDP</b>", 40, color="#D6D6D6", xanchor="right")

text(144, 368, "CESM1-HR (10 Members)", 47, color="#0E6A8C")
text(1832.5, 368, "CESM1-LR (10 Members)", 47, color="#5E8C62")
text(144, 1080, "CESM1-LENS (40 Members)", 47, color="#C9C46E")
text(1832.5, 1080, "Ensemble Mean Summary", 47)

text(1521, 367, "-1.63/0/1.42 10^12 m2 540yr<sup>-1</sup>", 36, xanchor="right")
text(3209, 367, "-0.77/-0/0.61 10^12 m2 540yr<sup>-1</sup>", 36, xanchor="right")
text(1521, 1079, "-0.72/-0/0.61 10^12 m2 540yr<sup>-1</sup>", 36, xanchor="right")

text(177, 886, "86%", 35)
text(1865, 886, "77%", 35)
text(177, 1596, "77%", 35)

fig.update_layout(annotations=ann)

fig.write_html("out.html")
